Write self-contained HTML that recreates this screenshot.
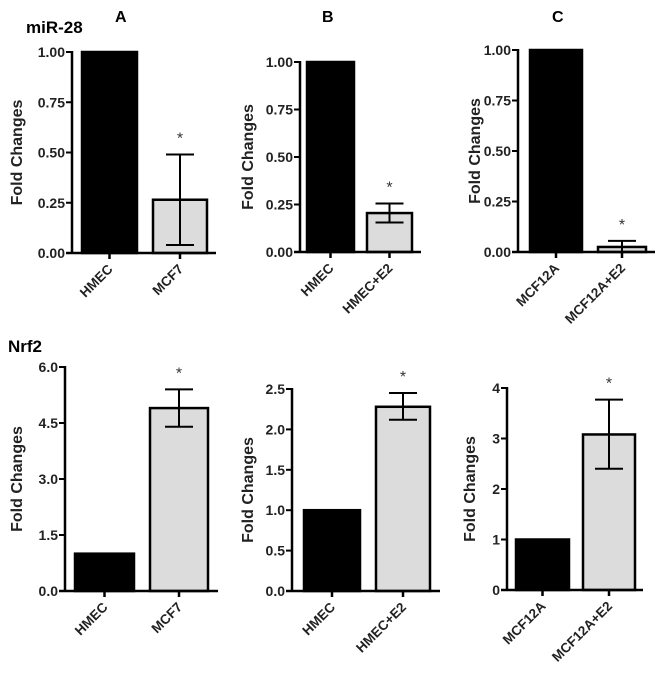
<!DOCTYPE html>
<html><head><meta charset="utf-8"><style>
body{margin:0;background:#fff;}
svg{display:block;font-family:"Liberation Sans",Arial,sans-serif;}
</style></head><body>
<svg id="fig" width="660" height="681" viewBox="0 0 660 681">
<text x="26" y="33" font-size="17" font-weight="bold">miR-28</text>
<text x="115" y="22" font-size="16" font-weight="bold">A</text>
<text x="322" y="22" font-size="16" font-weight="bold">B</text>
<text x="552" y="22" font-size="16" font-weight="bold">C</text>
<text x="8" y="352" font-size="17" font-weight="bold">Nrf2</text>
</svg>
<script>
const catsA = ["HMEC","MCF7"], catsB = ["HMEC","HMEC+E2"], catsC = ["MCF12A","MCF12A+E2"];
const mirA = [1.0, 0.265], mirAErr = [null, [0.04, 0.49]];
const mirB = [1.0, 0.205], mirBErr = [null, [0.155, 0.255]];
const mirC = [1.0, 0.025], mirCErr = [null, [0.0, 0.055]];
const nrfA = [1.0, 4.9], nrfAErr = [null, [4.4, 5.4]];
const nrfB = [1.0, 2.28], nrfBErr = [null, [2.12, 2.45]];
const nrfC = [1.0, 3.08], nrfCErr = [null, [2.4, 3.77]];
const ticksMir = ["0.00","0.25","0.50","0.75","1.00"];
const ticksNA = ["0.0","1.5","3.0","4.5","6.0"];
const ticksNB = ["0.0","0.5","1.0","1.5","2.0","2.5"];
const ticksNC = ["0","1","2","3","4"];

const NS = "http://www.w3.org/2000/svg";
const svg = document.getElementById("fig");
function mk(tag, attrs, parent){ const e=document.createElementNS(NS,tag); for(const k in attrs) e.setAttribute(k,attrs[k]); (parent||svg).appendChild(e); return e; }

function panel(id, geo, cats, vals, errs, ticks){
  const g = mk("g",{});
  
  
  const ymax = parseFloat(ticks[ticks.length-1]);
  const y = v => geo.y0 - (v/ymax)*(geo.y0-geo.yTop);
  vals.forEach((v,i)=>{
    const bx = geo.bars[i][0], bw = geo.bars[i][1]-geo.bars[i][0];
    const r = mk("rect",{x:bx,y:y(v),width:bw,height:geo.y0-y(v),fill:i===0?"#000":"#dcdcdc",stroke:"#000","stroke-width":2.5},g);
    
    
    const cx = bx + bw/2;
    if(errs[i]){
      const e = mk("path",{d:`M${cx},${y(errs[i][0])}V${y(errs[i][1])}M${cx-14},${y(errs[i][1])}H${cx+14}M${cx-14},${y(errs[i][0])}H${cx+14}`,stroke:"#000","stroke-width":2,fill:"none"},g);
      
      
      const s = mk("text",{x:cx,y:y(errs[i][1])-geo.starGap+3,"text-anchor":"middle","font-size":"16",fill:"#333"},g);
      s.textContent="*";
      
      
    }
    mk("line",{x1:cx,x2:cx,y1:geo.y0,y2:geo.y0+6,stroke:"#000","stroke-width":2.5},g);
    const t = mk("text",{x:cx+4,y:geo.y0+17,"text-anchor":"end","font-size":"13.5","font-weight":"bold",fill:"#222",transform:`rotate(-45 ${cx+4} ${geo.y0+17})`},g);
    t.textContent = cats[i];
    
    
  });
  mk("line",{x1:geo.ax,x2:geo.ax,y1:geo.yTop-1,y2:geo.y0,stroke:"#000","stroke-width":2.5},g);
  mk("line",{x1:geo.ax-6,x2:geo.xEnd,y1:geo.y0,y2:geo.y0,stroke:"#000","stroke-width":2.5},g);
  ticks.forEach(tk=>{
    const ty = y(parseFloat(tk));
    mk("line",{x1:geo.ax-6,x2:geo.ax,y1:ty,y2:ty,stroke:"#000","stroke-width":2},g);
    const t = mk("text",{x:geo.ax-7,y:ty+5,"text-anchor":"end","font-size":"14","font-weight":"bold",fill:"#222"},g);
    t.textContent = tk;
    
    
  });
  const ym = (geo.y0+geo.yTop)/2;
  const yt = mk("text",{x:geo.titleX,y:ym,"text-anchor":"middle","font-size":"16","font-weight":"bold",fill:"#222",transform:`rotate(-90 ${geo.titleX} ${ym})`},g);
  yt.textContent = "Fold Changes";
  
  
}

panel("mir28-panel-a",{ax:72,y0:253,yTop:52,xEnd:216,bars:[[82,137],[153,207]],titleX:22,starGap:14},catsA,mirA,mirAErr,ticksMir);
panel("mir28-panel-b",{ax:300,y0:252,yTop:62,xEnd:421,bars:[[307,354],[367,412]],titleX:253,starGap:14},catsB,mirB,mirBErr,ticksMir);
panel("mir28-panel-c",{ax:518,y0:252,yTop:50,xEnd:655,bars:[[530,582],[598,646]],titleX:480,starGap:14},catsC,mirC,mirCErr,ticksMir);
panel("nrf2-panel-a",{ax:65,y0:591,yTop:367,xEnd:218,bars:[[75,134],[150,208]],titleX:22,starGap:14},catsA,nrfA,nrfAErr,ticksNA);
panel("nrf2-panel-b",{ax:292,y0:591,yTop:389,xEnd:440,bars:[[304,360],[376,430]],titleX:253,starGap:14},catsB,nrfB,nrfBErr,ticksNB);
panel("nrf2-panel-c",{ax:507,y0:590,yTop:388,xEnd:643,bars:[[516,569],[583,635]],titleX:475,starGap:14},catsC,nrfC,nrfCErr,ticksNC);
</script>
</body></html>
